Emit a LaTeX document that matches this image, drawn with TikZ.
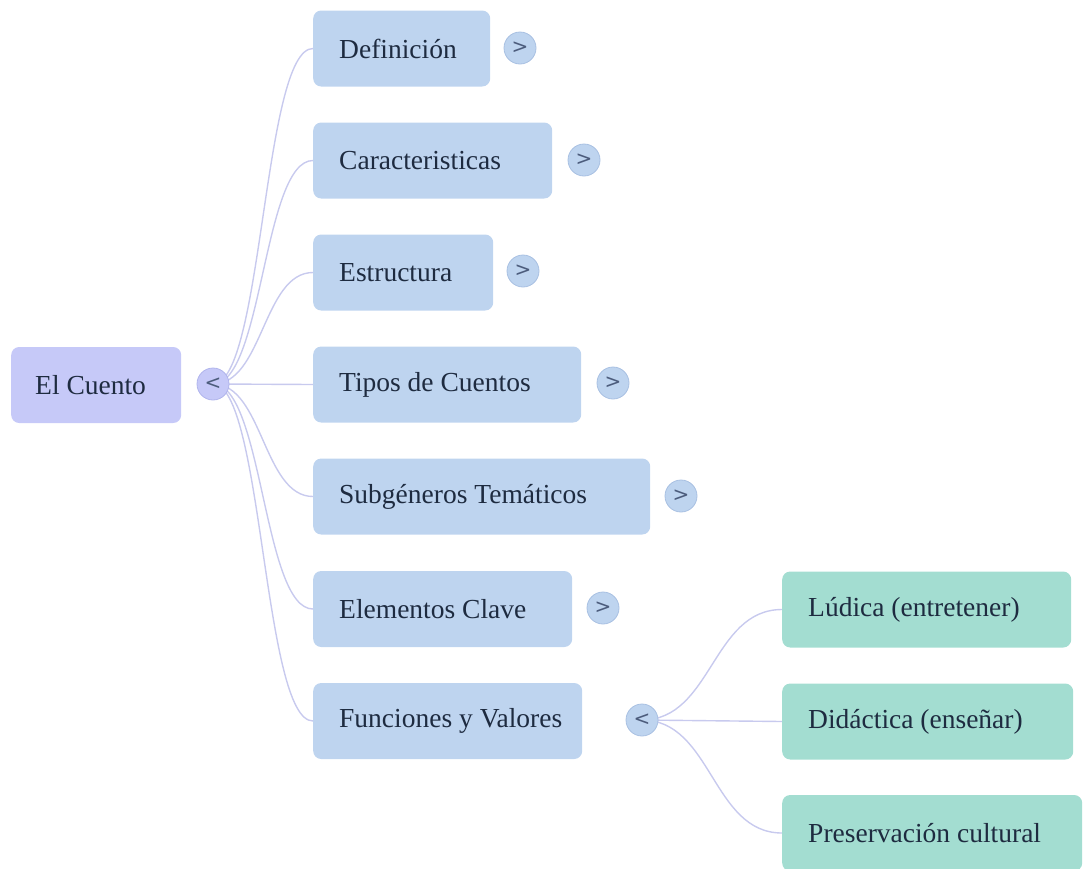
\documentclass[tikz,border=0pt]{standalone}
\usepackage{fontspec}
\setmainfont{Liberation Serif}
\newfontfamily\togfont{DejaVu Sans}
\usetikzlibrary{calc}
\pgfdeclarelayer{bg}
\pgfsetlayers{bg,main}
\definecolor{rootfill}{HTML}{C6C9F8}
\definecolor{bluefill}{HTML}{BED4EF}
\definecolor{greenfill}{HTML}{A3DDD1}
\definecolor{togdraw}{HTML}{A8C0E2}
\definecolor{roottogdraw}{HTML}{B0B4EC}
\definecolor{txt}{HTML}{1E2B40}
\definecolor{togtxt}{HTML}{4C5C7C}
\definecolor{linkc}{HTML}{C8CAEE}
\tikzset{
  box/.style={rounded corners=8pt, draw=none, anchor=west, minimum height=76pt,
    inner xsep=26pt, text=txt, font=\fontsize{27.5}{33}\selectfont},
  rootbox/.style={box, fill=rootfill},
  bluebox/.style={box, fill=bluefill},
  greenbox/.style={box, fill=greenfill},
  tog/.style={circle, fill=bluefill, draw=togdraw, line width=0.8pt, minimum size=32pt,
    inner sep=0pt, text=togtxt, font=\togfont\fontsize{20}{20}\selectfont},
  roottog/.style={tog, fill=rootfill, draw=roottogdraw},
  link/.style={draw=linkc, line width=1.4pt}
}
\newcommand\lb[2]{\makebox[#1][l]{#2}}
\newcommand\mylink[2]{\draw[link] let \p1=(#1.center), \p2=(#2.west) in
  (\p1) .. controls ({(\x1+\x2)/2},\y1) and ({(\x1+\x2)/2},\y2) .. (\p2);}
\begin{document}
\begin{tikzpicture}[x=1pt,y=-1pt]
\useasboundingbox (0,0) rectangle (1084,868);
% root
\node[rootbox, inner xsep=24pt] (root) at (11,385) {\lb{122pt}{El Cuento}};
\node[roottog] (troot) at (213,384) {<};
% level 1
\node[bluebox] (def) at (313,48.5) {\lb{125pt}{Definición}};
\node[bluebox] (car) at (313,160.5) {\lb{187pt}{Caracteristicas}};
\node[bluebox] (est) at (313,272.5) {\lb{128pt}{Estructura}};
\node[bluebox] (tip) at (313,384.5) {\lb{216pt}{Tipos de Cuentos}};
\node[bluebox] (sub) at (313,496.5) {\lb{285pt}{Subgéneros Temáticos}};
\node[bluebox] (ele) at (313,609) {\lb{207pt}{Elementos Clave}};
\node[bluebox] (fun) at (313,721) {\lb{217pt}{Funciones y Valores}};
\node[tog] (tdef) at (520,48) {>};
\node[tog] (tcar) at (584,160) {>};
\node[tog] (test) at (523,271) {>};
\node[tog] (ttip) at (613,383) {>};
\node[tog] (tsub) at (681,496) {>};
\node[tog] (tele) at (603,608) {>};
\node[tog] (tfun) at (642,720) {<};
% level 2
\node[greenbox] (lud) at (782,609.5) {\lb{237pt}{Lúdica (entretener)}};
\node[greenbox] (did) at (782,721.5) {\lb{239pt}{Didáctica (enseñar)}};
\node[greenbox] (pre) at (782,833) {\lb{248pt}{Preservación cultural}};
\begin{pgfonlayer}{bg}
\mylink{troot}{def}
\mylink{troot}{car}
\mylink{troot}{est}
\mylink{troot}{tip}
\mylink{troot}{sub}
\mylink{troot}{ele}
\mylink{troot}{fun}
\mylink{tfun}{lud}
\mylink{tfun}{did}
\mylink{tfun}{pre}
\end{pgfonlayer}
\end{tikzpicture}
\end{document}
